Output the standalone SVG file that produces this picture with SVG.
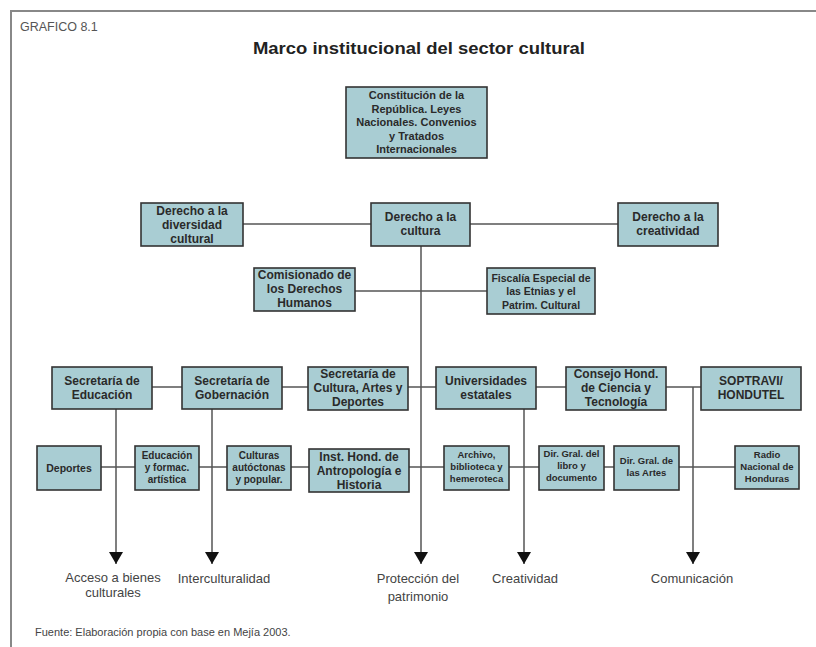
<svg xmlns="http://www.w3.org/2000/svg" width="816" height="647" viewBox="0 0 816 647">
<defs>
<style>
.box{fill:#a9cdd3;stroke:#333;stroke-width:1.6}
.bt{font-family:"Liberation Sans",Arial,sans-serif;font-weight:bold;fill:#2a2a2a;text-anchor:middle}
.f12{font-size:12px}
.f11{font-size:11px}
.f10{font-size:10px}
.f9{font-size:9.5px}
.ln{stroke:#555;stroke-width:1.5;fill:none}
.lbl{font-family:"Liberation Sans",Arial,sans-serif;font-size:13px;fill:#444;text-anchor:middle}
</style>
<marker id="ah" markerUnits="userSpaceOnUse" markerWidth="13" markerHeight="14" refX="12" refY="7" orient="auto" viewBox="0 0 13 14">
<path d="M0,0 L12,7 L0,14 Z" fill="#111"/>
</marker>
</defs>
<rect width="816" height="647" fill="#fff"/>
<path d="M11,647 V11 H816" fill="none" stroke="#888" stroke-width="2"/>
<text x="20" y="31" font-family="'Liberation Sans',Arial,sans-serif" font-size="12.5" fill="#555">GRAFICO 8.1</text>
<text x="419" y="54" font-family="'Liberation Sans',Arial,sans-serif" font-size="17" font-weight="bold" fill="#222" text-anchor="middle" textLength="332" lengthAdjust="spacingAndGlyphs">Marco institucional del sector cultural</text>

<g id="connectors">
<line class="ln" x1="243" y1="224" x2="371" y2="224"/>
<line class="ln" x1="470" y1="224" x2="618" y2="224"/>
<line class="ln" x1="355" y1="291" x2="487" y2="291"/>
<line class="ln" x1="152" y1="387" x2="701" y2="387"/>
<line class="ln" x1="101" y1="467" x2="735" y2="467"/>
<line class="ln" x1="421" y1="246" x2="421" y2="564" marker-end="url(#ah)"/>
<line class="ln" x1="116" y1="409" x2="116" y2="564" marker-end="url(#ah)"/>
<line class="ln" x1="212" y1="409" x2="212" y2="564" marker-end="url(#ah)"/>
<line class="ln" x1="524" y1="409" x2="524" y2="564" marker-end="url(#ah)"/>
<line class="ln" x1="693" y1="387" x2="693" y2="564" marker-end="url(#ah)"/>
</g>

<g id="constitucion"><rect class="box" x="346" y="87" width="141" height="71"/>
<text class="bt f11"><tspan x="416.5" y="99">Constitución de la</tspan><tspan x="416.5" y="113">República. Leyes</tspan><tspan x="416.5" y="126">Nacionales. Convenios</tspan><tspan x="416.5" y="140">y Tratados</tspan><tspan x="416.5" y="153">Internacionales</tspan></text></g>

<g id="der-diversidad"><rect class="box" x="141" y="203" width="102" height="43"/>
<text class="bt f12"><tspan x="192" y="215">Derecho a la</tspan><tspan x="192" y="229">diversidad</tspan><tspan x="192" y="243">cultural</tspan></text></g>

<g id="der-cultura"><rect class="box" x="371" y="203" width="99" height="43"/>
<text class="bt f12"><tspan x="420.5" y="221">Derecho a la</tspan><tspan x="420.5" y="235">cultura</tspan></text></g>

<g id="der-creatividad"><rect class="box" x="618" y="203" width="100" height="43"/>
<text class="bt f12"><tspan x="668" y="221">Derecho a la</tspan><tspan x="668" y="235">creatividad</tspan></text></g>

<g id="comisionado"><rect class="box" x="254" y="268" width="101" height="43"/>
<text class="bt f12"><tspan x="304.5" y="279">Comisionado de</tspan><tspan x="304.5" y="293">los Derechos</tspan><tspan x="304.5" y="307">Humanos</tspan></text></g>

<g id="fiscalia"><rect class="box" x="487" y="268" width="108" height="46"/>
<text class="bt" font-size="10.5"><tspan x="541" y="281.5">Fiscalía Especial de</tspan><tspan x="541" y="295">las Etnias y el</tspan><tspan x="541" y="308.5">Patrim. Cultural</tspan></text></g>

<g id="sec-educacion"><rect class="box" x="52" y="367" width="100" height="42"/>
<text class="bt f12"><tspan x="102" y="385">Secretaría de</tspan><tspan x="102" y="399">Educación</tspan></text></g>

<g id="sec-gobernacion"><rect class="box" x="182" y="367" width="100" height="42"/>
<text class="bt f12"><tspan x="232" y="385">Secretaría de</tspan><tspan x="232" y="399">Gobernación</tspan></text></g>

<g id="sec-cultura"><rect class="box" x="308" y="367" width="100" height="43"/>
<text class="bt f12"><tspan x="358" y="378">Secretaría de</tspan><tspan x="358" y="392">Cultura, Artes y</tspan><tspan x="358" y="406">Deportes</tspan></text></g>

<g id="universidades"><rect class="box" x="436" y="367" width="100" height="42"/>
<text class="bt f12"><tspan x="486" y="385">Universidades</tspan><tspan x="486" y="399">estatales</tspan></text></g>

<g id="consejo"><rect class="box" x="566" y="367" width="100" height="43"/>
<text class="bt f12"><tspan x="616" y="378">Consejo Hond.</tspan><tspan x="616" y="392">de Ciencia y</tspan><tspan x="616" y="406">Tecnología</tspan></text></g>

<g id="soptravi"><rect class="box" x="701" y="367" width="100" height="43"/>
<text class="bt f12"><tspan x="751" y="385">SOPTRAVI/</tspan><tspan x="751" y="399">HONDUTEL</tspan></text></g>

<g id="deportes"><rect class="box" x="37" y="446" width="64" height="44"/>
<text class="bt" font-size="10.5" x="69" y="471.5">Deportes</text></g>

<g id="educ-formac"><rect class="box" x="135" y="446" width="64" height="44"/>
<text class="bt f10"><tspan x="167" y="458.5">Educación</tspan><tspan x="167" y="470.5">y formac.</tspan><tspan x="167" y="482.5">artística</tspan></text></g>

<g id="culturas"><rect class="box" x="227" y="446" width="64" height="44"/>
<text class="bt f10"><tspan x="259" y="458.5">Culturas</tspan><tspan x="259" y="470.5">autóctonas</tspan><tspan x="259" y="482.5">y popular.</tspan></text></g>

<g id="ihah"><rect class="box" x="309" y="449" width="100" height="43"/>
<text class="bt f12"><tspan x="359" y="461">Inst. Hond. de</tspan><tspan x="359" y="475">Antropología e</tspan><tspan x="359" y="489">Historia</tspan></text></g>

<g id="archivo"><rect class="box" x="444" y="446" width="65" height="44"/>
<text class="bt f9"><tspan x="476.5" y="458">Archivo,</tspan><tspan x="476.5" y="470">biblioteca y</tspan><tspan x="476.5" y="482">hemeroteca</tspan></text></g>

<g id="dir-libro"><rect class="box" x="539" y="446" width="65" height="44"/>
<text class="bt f9"><tspan x="571.5" y="457">Dir. Gral. del</tspan><tspan x="571.5" y="469">libro y</tspan><tspan x="571.5" y="481">documento</tspan></text></g>

<g id="dir-artes"><rect class="box" x="614" y="446" width="65" height="44"/>
<text class="bt f9"><tspan x="646.5" y="464">Dir. Gral. de</tspan><tspan x="646.5" y="476">las Artes</tspan></text></g>

<g id="radio"><rect class="box" x="735" y="446" width="64" height="43"/>
<text class="bt f9"><tspan x="767" y="458">Radio</tspan><tspan x="767" y="470">Nacional de</tspan><tspan x="767" y="482">Honduras</tspan></text></g>

<g id="labels">
<text class="lbl"><tspan x="113" y="582">Acceso a bienes</tspan><tspan x="113" y="597">culturales</tspan></text>
<text class="lbl" x="224" y="583">Interculturalidad</text>
<text class="lbl"><tspan x="418" y="583">Protección del</tspan><tspan x="418" y="601">patrimonio</tspan></text>
<text class="lbl" x="525" y="583">Creatividad</text>
<text class="lbl" x="692" y="583">Comunicación</text>
</g>
<text x="35" y="636" font-family="'Liberation Sans',Arial,sans-serif" font-size="11" fill="#444">Fuente: Elaboración propia con base en Mejía 2003.</text>
</svg>
